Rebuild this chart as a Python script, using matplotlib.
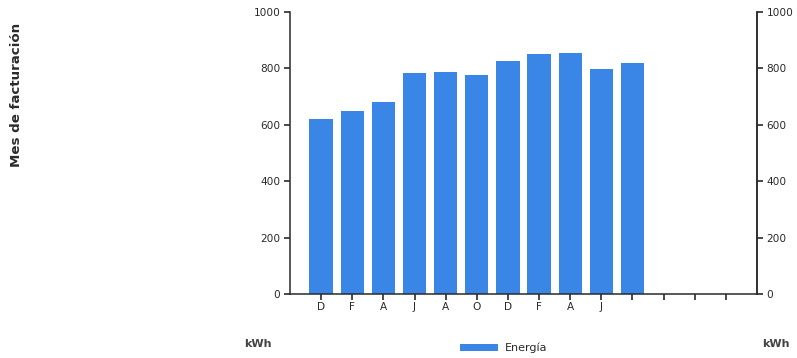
import numpy as np
import matplotlib
matplotlib.use('Agg')
import matplotlib.pyplot as plt

# billing months (bimonthly), last bar has no label in the source
meses = ["D", "F", "A", "J", "A", "O", "D", "F", "A", "J", ""]
energia = [620, 650, 680, 785, 788, 778, 826, 850, 855, 798, 818]
n_slots = 14
yticks = [0, 200, 400, 600, 800, 1000]

azul = '#3a86e6'
gris = '#2a2a2a'

plt.rcParams['font.family'] = ['DejaVu Sans']

fig = plt.figure(figsize=(7.97, 3.58), dpi=100)
ax = fig.add_axes([0.3639, 0.1788, 0.5859, 0.7877])

x = np.arange(1, len(energia) + 1)
ax.bar(x, energia, width=0.75, color=azul, label='Energía')

ax.set_xlim(0, n_slots + 1)
ax.set_ylim(0, 1000)
ax.set_xticks(np.arange(1, n_slots + 1))
ax.set_xticklabels(meses + [""] * (n_slots - len(meses)))
ax.set_yticks(yticks)

ax.spines['top'].set_visible(False)
for s in ['left', 'right', 'bottom']:
    ax.spines[s].set_color(gris)
    ax.spines[s].set_linewidth(1.1)

ax.tick_params(axis='both', direction='out', length=4, width=1.2, color=gris,
               labelsize=7.6, labelcolor=gris, pad=2)
ax.tick_params(axis='y', pad=3)

ax2 = ax.twinx()
ax2.set_ylim(0, 1000)
ax2.set_yticks(yticks)
for s in ['top', 'left', 'bottom']:
    ax2.spines[s].set_visible(False)
ax2.spines['right'].set_color(gris)
ax2.spines['right'].set_linewidth(1.1)
ax2.tick_params(axis='y', direction='out', length=4, width=1.2, color=gris,
                labelsize=7.6, labelcolor=gris, pad=3)

fig.text(17 / 797, 1 - 95 / 358, 'Mes de facturación', rotation=90,
         ha='center', va='center', fontsize=9.6, fontweight='bold',
         color=gris)
fig.text(258 / 797, 1 - 344 / 358, 'kWh', ha='center', va='center',
         fontsize=8, fontweight='bold', color='#444444')
fig.text(762 / 797, 1 - 344 / 358, 'kWh', ha='left', va='center',
         fontsize=8, fontweight='bold', color='#444444')

fig.legend(loc='center left', bbox_to_anchor=(460 / 797, 1 - 348 / 358),
           frameon=False, fontsize=8, borderpad=0, borderaxespad=0,
           handlelength=3.4, handleheight=0.55,
           handletextpad=0.6, labelcolor=gris)

fig.savefig('out.png', dpi=100)
